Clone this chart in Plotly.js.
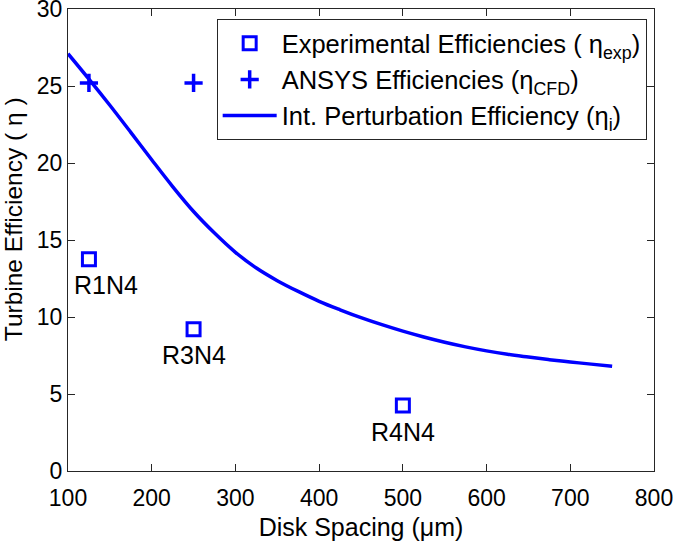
<!DOCTYPE html>
<html>
<head>
<meta charset="utf-8">
<script src="https://cdn.plot.ly/plotly-3.0.1.min.js"></script>
<style>html,body{margin:0;padding:0;background:#fff;}#chart{width:673px;height:543px;}</style>
</head>
<body>
<div id="chart"></div>
<script>
// Experimental efficiencies
const expX = [125, 250, 500];
const expY = [13.75, 9.2, 4.25];
const expLabels = ['R1N4', 'R3N4', 'R4N4'];
// ANSYS (CFD) efficiencies
const cfdX = [125, 250];
const cfdY = [25.2, 25.2];
// Integral perturbation efficiency curve
const curveX = [100, 125, 150, 175, 200, 225, 250, 275, 300, 325, 350, 375, 400, 425, 450, 475, 500, 525, 550, 575, 600, 625, 650, 675, 700, 725, 750];
const curveY = [27.1, 25.45, 23.75, 21.99, 20.21, 18.47, 16.85, 15.45, 14.2, 13.18, 12.36, 11.66, 11.02, 10.47, 9.96, 9.5, 9.08, 8.7, 8.36, 8.06, 7.8, 7.58, 7.4, 7.23, 7.08, 6.94, 6.8];
// Axis ticks
const xTicks = [100, 200, 300, 400, 500, 600, 700, 800];
const yTicks = [0, 5, 10, 15, 20, 25, 30];

const FONT = 'Liberation Sans, Arial, Helvetica, sans-serif';
const BLUE = '#0000ff';
const AX = '#262626';

const traces = [
  {
    x: expX, y: expY, type: 'scatter', mode: 'markers',
    name: 'Experimental Efficiencies ( η<sub>exp</sub>)',
    marker: {symbol: 'square-open', size: 13, color: BLUE, line: {width: 3, color: BLUE}}
  },
  {
    x: cfdX, y: cfdY, type: 'scatter', mode: 'markers',
    name: 'ANSYS Efficiencies (η<sub>CFD</sub>)',
    marker: {symbol: 'cross-thin-open', size: 13, color: BLUE, line: {width: 3.5, color: BLUE}}
  },
  {
    x: curveX, y: curveY, type: 'scatter', mode: 'lines',
    name: 'Int. Perturbation Efficiency (η<sub>i</sub>)',
    line: {color: BLUE, width: 3.5, shape: 'spline', smoothing: 1}
  }
];

const xShift = [17, 0, 0];
const annotations = expLabels.map((t, i) => ({
  x: expX[i], y: expY[i], xref: 'x', yref: 'y', text: t, showarrow: false,
  xshift: xShift[i], yshift: -26, font: {family: FONT, size: 25, color: '#000'}
}));
annotations.push({
  x: -0.093, y: 0.544, xref: 'paper', yref: 'paper', xanchor: 'center', yanchor: 'middle',
  text: 'Turbine Efficiency ( η )', textangle: -90, showarrow: false,
  font: {family: FONT, size: 24.5, color: '#000'}
});

const layout = {
  width: 673, height: 543,
  margin: {l: 68, r: 19, t: 9, b: 72, pad: 0},
  paper_bgcolor: '#fff', plot_bgcolor: '#fff',
  font: {family: FONT, color: '#000'},
  showlegend: true,
  legend: {
    x: 0.9875, xanchor: 'right', y: 0.978, yanchor: 'top',
    bgcolor: '#fff', bordercolor: AX, borderwidth: 1,
    font: {family: FONT, size: 25.5, color: '#000'},
    itemwidth: 54
  },
  xaxis: {
    range: [100, 800], tickvals: xTicks, ticktext: xTicks.map(String),
    showgrid: false, zeroline: false, showline: true, linecolor: AX, linewidth: 1,
    mirror: 'ticks', ticks: 'inside', ticklen: 7, tickcolor: AX, tickwidth: 1,
    ticklabelstandoff: 6, ticklabeloverflow: 'allow',
    tickfont: {family: FONT, size: 23, color: '#000'},
    title: {text: 'Disk Spacing (μm)', font: {family: FONT, size: 25, color: '#000'}, standoff: 8}
  },
  yaxis: {
    range: [0, 30], tickvals: yTicks, ticktext: yTicks.map(String),
    showgrid: false, zeroline: false, showline: true, linecolor: AX, linewidth: 1,
    mirror: 'ticks', ticks: 'inside', ticklen: 7, tickcolor: AX, tickwidth: 1,
    ticklabeloverflow: 'allow',
    tickfont: {family: FONT, size: 23, color: '#000'}
  },
  annotations: annotations
};

Plotly.newPlot('chart', traces, layout, {staticPlot: true, displayModeBar: false});
</script>
</body>
</html>
